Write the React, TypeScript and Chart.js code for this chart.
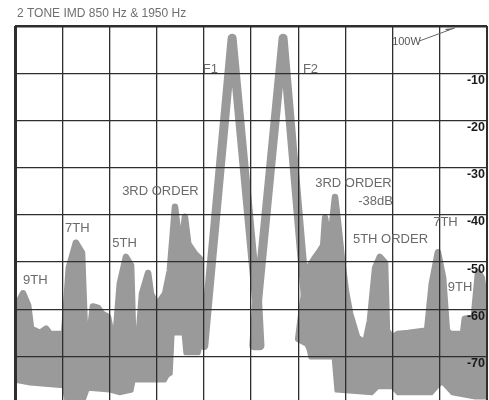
import React, { useEffect, useRef } from 'react';
import { Chart, registerables } from 'chart.js';

Chart.register(...registerables);

// ---------- data (x in screen divisions, 0..10 ; y in dB below 100 W) ----------
const TITLE = '2 TONE IMD 850 Hz & 1950 Hz';
const X_DIVISIONS = [0, 1, 2, 3, 4, 5, 6, 7, 8, 9, 10];
const DB_TICKS = [-70, -60, -50, -40, -30, -20, -10, 0];

// the two carriers F1 / F2 (single thick trace)
const carrierTrace: [number, number][] = [
  [4.0, -67.7], [4.6, -2.6], [5.12, -58.2], [5.06, -67.7], [5.19, -67.7],
  [5.14, -58.2], [5.68, -2.6], [6.24, -67.7],
];

// lower sideband noise / IMD products: top and bottom of the shaded band
const leftBandTop: [number, number][] = [
  [0, -59.9], [0.04, -59.2], [0.17, -56.6], [0.28, -59.2], [0.34, -64.1], [0.53, -65.0],
  [0.66, -64.1], [0.74, -65.2], [1.04, -65.2], [1.14, -51.2], [1.29, -45.9], [1.42, -48.0],
  [1.48, -64.1], [1.59, -64.5], [1.65, -59.4], [1.76, -59.7], [1.84, -60.9], [1.97, -61.6],
  [2.03, -64.5], [2.14, -64.5], [2.22, -54.6], [2.35, -48.9], [2.46, -50.7], [2.5, -64.5],
  [2.63, -64.5], [2.69, -56.7], [2.82, -52.3], [2.88, -56.7], [2.99, -58.8], [3.07, -58.2],
  [3.18, -56.7], [3.28, -51.8], [3.39, -38.3], [3.47, -45.0], [3.54, -45.4], [3.6, -40.4],
  [3.67, -46.1], [3.81, -48.2], [3.92, -49.3], [3.96, -62.4], [4.03, -64.5],
];
const leftBandBottom: [number, number][] = [
  [0, -75.2], [0.32, -75.8], [1.02, -76.4], [1.08, -79.4], [1.46, -79.4], [1.55, -76.9],
  [2.01, -77.3], [2.22, -77.9], [2.48, -77.3], [2.52, -75.2], [3.18, -75.2], [3.24, -74.1],
  [3.31, -73.7], [3.35, -65.2], [3.56, -65.2], [3.6, -69.4], [3.9, -69.4], [3.94, -67.7],
  [4.03, -64.9],
];

// upper sideband
const rightBandTop: [number, number][] = [
  [6.0, -66.2], [6.1, -58.2], [6.25, -50.7], [6.36, -49.0], [6.46, -47.6], [6.53, -46.5],
  [6.57, -40.6], [6.63, -45.4], [6.69, -44.4], [6.78, -36.2], [6.84, -41.2], [6.93, -49.7],
  [7.01, -56.1], [7.1, -60.9], [7.25, -66.0], [7.42, -67.1], [7.52, -62.4], [7.63, -51.2],
  [7.73, -48.9], [7.84, -50.1], [7.88, -64.5], [7.99, -66.0], [8.11, -65.2], [8.33, -65.0],
  [8.73, -64.5], [8.83, -54.6], [8.96, -47.9], [9.07, -53.3], [9.15, -64.5], [9.22, -65.2],
  [9.49, -65.2], [9.53, -62.0], [9.72, -61.8], [9.81, -52.1], [9.89, -53.3], [9.96, -58.2],
  [10.0, -59.2],
];
const rightBandBottom: [number, number][] = [
  [6.0, -66.7], [6.19, -67.7], [6.25, -70.3], [6.74, -70.3], [6.8, -77.3], [7.56, -77.9],
  [7.69, -76.6], [7.99, -76.6], [8.11, -77.9], [8.83, -77.9], [8.94, -76.6], [9.05, -75.6],
  [9.26, -77.9], [9.75, -78.8], [10.0, -78.8],
];

// text notes: label, x (div), dB
const NOTE_TEXTS = ['9TH', '7TH', '5TH', '3RD ORDER', 'F1', 'F2', '3RD ORDER', '-38dB', '5TH ORDER', '7TH', '9TH'];
const NOTE_X = [0.17, 1.06, 2.06, 2.27, 3.98, 6.1, 6.36, 7.27, 7.16, 8.86, 9.17];
const NOTE_DB = [-53.8, -42.8, -46.0, -35.0, -9.1, -9.3, -33.3, -37.1, -45.3, -41.7, -55.3];

const POWER_TEXT = '100W';
const POWER_AT: [number, number] = [7.99, -3.4];
const ARROW_FROM: [number, number] = [8.56, -3.2];
const ARROW_TO: [number, number] = [9.32, -0.4];

// ---------- styles ----------
const GRAY = '#9a9a9a';
const GRID = '#2e2e2e';
const FONT = '"Liberation Sans", Arial, Helvetica, sans-serif';

const toXY = (arr: [number, number][]) => arr.map(([x, y]) => ({ x, y }));

const notesPlugin = {
  id: 'imdNotes',
  afterDraw(chart: any) {
    const { ctx, scales, chartArea } = chart;
    const xs = scales.x;
    const ys = scales.y;
    ctx.save();
    // right frame edge
    ctx.strokeStyle = GRID;
    ctx.lineWidth = 2;
    ctx.beginPath();
    ctx.moveTo(chartArea.right, chartArea.top);
    ctx.lineTo(chartArea.right, chartArea.bottom);
    ctx.stroke();
    // title
    ctx.fillStyle = '#6f6f6f';
    ctx.font = `12px ${FONT}`;
    ctx.textBaseline = 'middle';
    ctx.textAlign = 'left';
    ctx.fillText(TITLE, chartArea.left + 2, chartArea.top - 12);
    // notes
    ctx.font = `13px ${FONT}`;
    ctx.fillStyle = '#6a6a6a';
    NOTE_TEXTS.forEach((t, i) => {
      ctx.fillText(t, xs.getPixelForValue(NOTE_X[i]), ys.getPixelForValue(NOTE_DB[i]));
    });
    // 100W marker with arrow
    ctx.font = `11px ${FONT}`;
    ctx.fillStyle = '#555';
    ctx.fillText(POWER_TEXT, xs.getPixelForValue(POWER_AT[0]), ys.getPixelForValue(POWER_AT[1]));
    const x1 = xs.getPixelForValue(ARROW_FROM[0]);
    const y1 = ys.getPixelForValue(ARROW_FROM[1]);
    const x2 = xs.getPixelForValue(ARROW_TO[0]);
    const y2 = ys.getPixelForValue(ARROW_TO[1]);
    ctx.strokeStyle = '#666';
    ctx.lineWidth = 1;
    ctx.beginPath();
    ctx.moveTo(x1, y1);
    ctx.lineTo(x2, y2);
    ctx.stroke();
    const ang = Math.atan2(y2 - y1, x2 - x1);
    ctx.beginPath();
    ctx.moveTo(x2, y2);
    ctx.lineTo(x2 - 10 * Math.cos(ang) + 2.5 * Math.sin(ang), y2 - 10 * Math.sin(ang) - 2.5 * Math.cos(ang));
    ctx.lineTo(x2 - 8 * Math.cos(ang), y2 - 8 * Math.sin(ang));
    ctx.closePath();
    ctx.fillStyle = '#666';
    ctx.fill();
    ctx.restore();
  },
};

export default function App() {
  const ref = useRef<HTMLCanvasElement | null>(null);

  useEffect(() => {
    if (!ref.current) return;
    const band = {
      borderColor: GRAY,
      backgroundColor: GRAY,
      pointRadius: 0,
      tension: 0,
      borderJoinStyle: 'round' as const,
      borderCapStyle: 'round' as const,
    };
    const chart = new Chart(ref.current, {
      type: 'line',
      data: {
        datasets: [
          { ...band, label: 'carriers', data: toXY(carrierTrace), borderWidth: 9, fill: false },
          { ...band, label: 'lsb top', data: toXY(leftBandTop), borderWidth: 6.5, fill: '+1' },
          { ...band, label: 'lsb bottom', data: toXY(leftBandBottom), borderWidth: 3, fill: false },
          { ...band, label: 'usb top', data: toXY(rightBandTop), borderWidth: 6.5, fill: '+1' },
          { ...band, label: 'usb bottom', data: toXY(rightBandBottom), borderWidth: 3, fill: false },
        ] as any,
      },
      options: {
        animation: false,
        responsive: false,
        layout: { padding: { left: 15, top: 26, right: 2, bottom: 0 } },
        plugins: {
          legend: { display: false },
          tooltip: { enabled: false },
          title: { display: false },
        },
        scales: {
          x: {
            type: 'linear',
            min: 0,
            max: 10,
            afterBuildTicks: (s: any) => {
              s.ticks = X_DIVISIONS.map((v) => ({ value: v }));
            },
            afterFit: (s: any) => {
              s.height = 0;
              s.paddingLeft = 0;
              s.paddingRight = 0;
            },
            ticks: { display: false },
            border: { display: false },
            grid: {
              z: 1,
              drawTicks: false,
              color: GRID,
              lineWidth: (c: any) => (c.tick && c.tick.value === 0 ? 3 : c.tick && c.tick.value === 10 ? 2 : 1.3),
            },
          },
          y: {
            type: 'linear',
            position: 'right',
            min: -79.2,
            max: 0,
            afterBuildTicks: (s: any) => {
              s.ticks = DB_TICKS.map((v) => ({ value: v }));
            },
            afterFit: (s: any) => {
              s.width = 0;
              s.paddingTop = 0;
              s.paddingBottom = 0;
            },
            border: { display: false },
            grid: {
              z: 1,
              drawTicks: false,
              color: GRID,
              lineWidth: (c: any) => (c.tick && c.tick.value === 0 ? 2.5 : 1.3),
            },
            ticks: {
              z: 2,
              mirror: true,
              padding: -2,
              labelOffset: 7,
              color: '#1a1a1a',
              font: { family: FONT, size: 12.5, weight: 'bold' },
              callback: (v: any) => (Number(v) === 0 ? '' : String(v)),
            },
          },
        },
      } as any,
      plugins: [notesPlugin],
    });
    return () => chart.destroy();
  }, []);

  return (
    <div style={{ position: 'fixed', left: 0, top: 0, width: 489, height: 400, background: '#fff', overflow: 'hidden' }}>
      <canvas ref={ref} width={489} height={400} style={{ width: 489, height: 400, display: 'block' }} />
    </div>
  );
}
